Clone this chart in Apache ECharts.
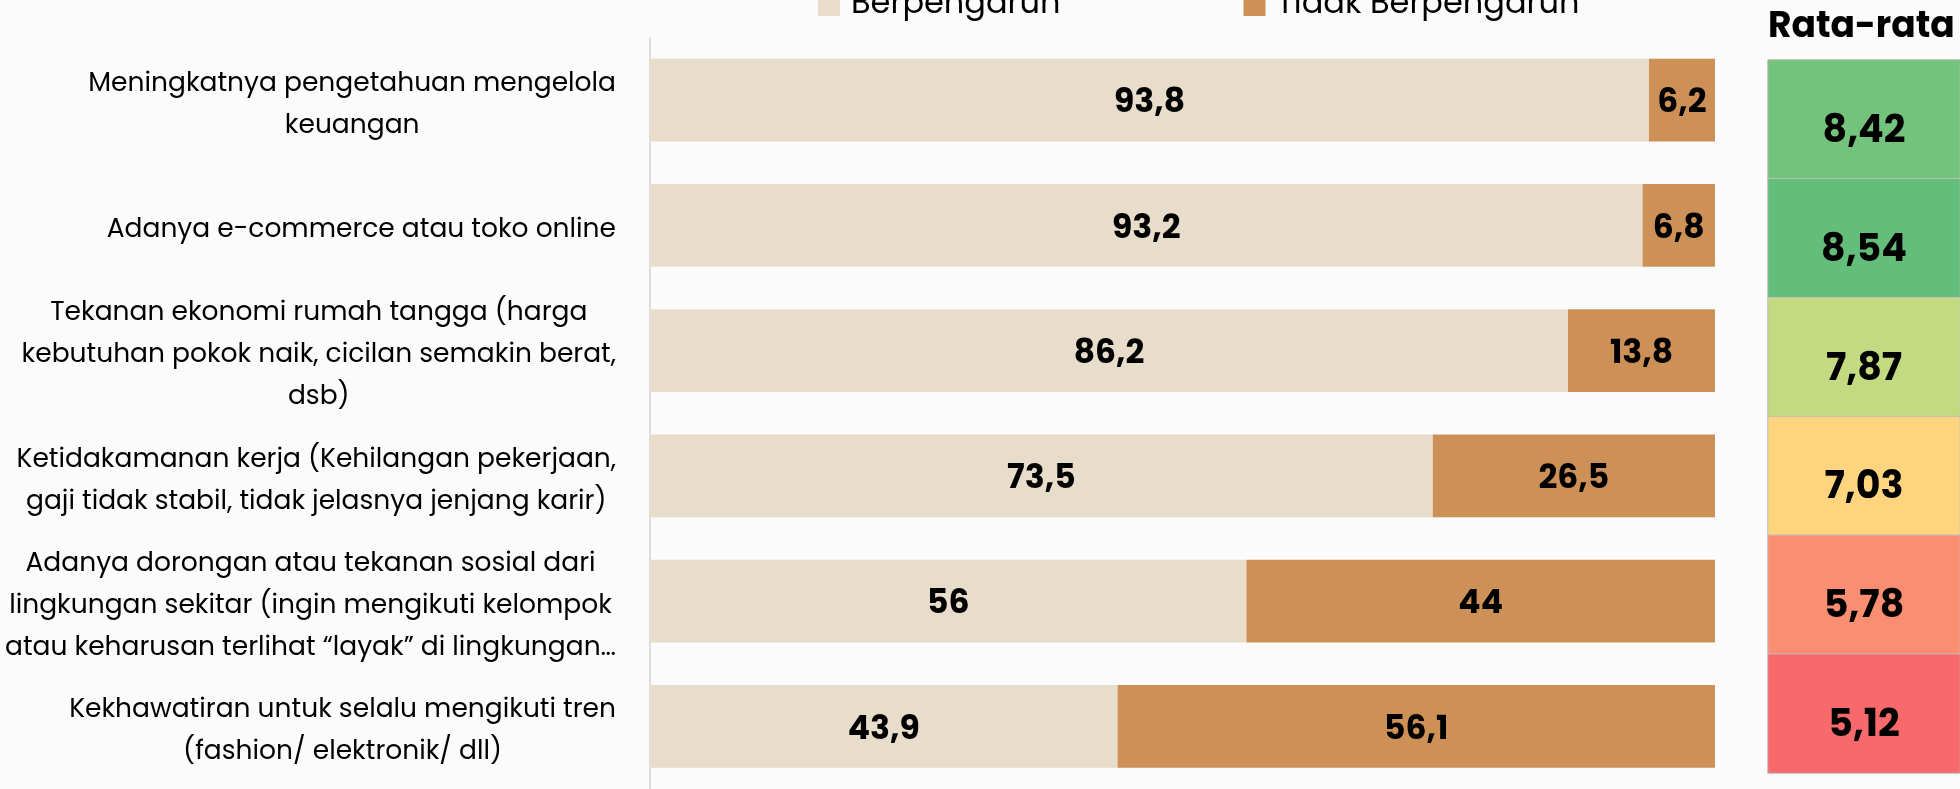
<!DOCTYPE html>
<html>
<head>
<meta charset="utf-8">
<script src="https://cdn.jsdelivr.net/npm/echarts@6/dist/echarts.min.js"></script>
<style>
  html, body { margin: 0; padding: 0; background: #fbfbfb; }
  #chart { width: 1960px; height: 789px; }
</style>
</head>
<body>
<div id="chart"></div>
<script>
// Factors (with manual line breaks) shown top to bottom
const categories = [
  'Meningkatnya pengetahuan mengelola\nkeuangan',
  'Adanya e-commerce atau toko online',
  'Tekanan ekonomi rumah tangga (harga\nkebutuhan pokok naik, cicilan semakin berat,\ndsb)',
  'Ketidakamanan kerja (Kehilangan pekerjaan,\ngaji tidak stabil, tidak jelasnya jenjang karir)',
  'Adanya dorongan atau tekanan sosial dari\nlingkungan sekitar (ingin mengikuti kelompok\natau keharusan terlihat \u201clayak\u201d di lingkungan\u2026',
  'Kekhawatiran untuk selalu mengikuti tren\n(fashion/ elektronik/ dll)'
];
const seriesNames = ['Berpengaruh', 'Tidak Berpengaruh'];
const berpengaruh = [93.8, 93.2, 86.2, 73.5, 56, 43.9];
const tidakBerpengaruh = [6.2, 6.8, 13.8, 26.5, 44, 56.1];
const rataRataTitle = 'Rata-rata';
const rataRata = [8.42, 8.54, 7.87, 7.03, 5.78, 5.12];

const FONT = 'Poppins, Inter, "Open Sans", sans-serif';
const fmtComma = v => String(v).replace('.', ',');

// Three-colour scale (red - yellow - green) with the midpoint at the median
function scaleColor(v, values) {
  const sorted = values.slice().sort((a, b) => a - b);
  const min = sorted[0], max = sorted[sorted.length - 1];
  const n = sorted.length;
  const mid = n % 2 ? sorted[(n - 1) / 2] : (sorted[n / 2 - 1] + sorted[n / 2]) / 2;
  const red = [248, 105, 107], yellow = [255, 235, 132], green = [99, 190, 123];
  let a, b, t;
  if (v <= mid) { a = red; b = yellow; t = (v - min) / (mid - min); }
  else { a = yellow; b = green; t = (v - mid) / (max - mid); }
  const c = a.map((x, i) => Math.round(x + (b[i] - x) * t));
  return 'rgb(' + c.join(',') + ')';
}

const chart = echarts.init(document.getElementById('chart'), null, { renderer: 'canvas' });

const barLabel = {
  show: true, position: 'inside', color: '#000', fontFamily: FONT,
  fontSize: 33, fontWeight: 'bold', offset: [0, 4],
  formatter: p => fmtComma(p.value)
};

const option = {
  backgroundColor: '#fbfbfb',
  animation: false,
  textStyle: { fontFamily: FONT },
  title: {
    text: rataRataTitle,
    left: 1768,
    top: 10,
    padding: 0,
    textStyle: { fontFamily: FONT, fontSize: 36, fontWeight: 'bold', color: '#000' }
  },
  legend: {
    data: seriesNames,
    left: 818,
    top: -11,
    padding: 0,
    icon: 'rect',
    itemWidth: 22,
    itemHeight: 22,
    itemGap: 183,
    textStyle: { fontFamily: FONT, fontSize: 32, lineHeight: 22, color: '#000', padding: [0, 0, 0, 6] }
  },
  grid: [
    { left: 650, right: 245, top: 37.5, bottom: -4.5, containLabel: false },
    { left: 1768, right: -12, top: 60, bottom: 16, containLabel: false }
  ],
  xAxis: [
    { type: 'value', gridIndex: 0, min: 0, max: 100, show: false },
    { type: 'category', gridIndex: 1, data: [rataRataTitle], show: false }
  ],
  yAxis: [
    {
      type: 'category', gridIndex: 0, data: categories, inverse: true,
      axisLine: { show: true, lineStyle: { color: '#dddddd', width: 2 } },
      axisTick: { show: false },
      splitLine: { show: false },
      axisLabel: {
        margin: 34,
        align: 'right',
        color: '#000',
        fontFamily: FONT,
        fontSize: 26.5,
        lineHeight: 42,
        padding: [10, 0, 0, 0],
        formatter: v => v.split('\n').map(l => '{c|' + l + '}').join('\n'),
        rich: { c: { align: 'center', fontFamily: FONT, fontSize: 26.5, lineHeight: 42, color: '#000' } }
      }
    },
    { type: 'category', gridIndex: 1, data: categories.map((_, i) => i), inverse: true, show: false }
  ],
  series: [
    {
      name: seriesNames[0], type: 'bar', stack: 'total', xAxisIndex: 0, yAxisIndex: 0,
      barWidth: '66%', data: berpengaruh,
      itemStyle: { color: '#e8dccb' },
      label: barLabel
    },
    {
      name: seriesNames[1], type: 'bar', stack: 'total', xAxisIndex: 0, yAxisIndex: 0,
      barWidth: '66%', data: tidakBerpengaruh,
      itemStyle: { color: '#cd9157' },
      label: barLabel
    },
    {
      name: rataRataTitle, type: 'heatmap', xAxisIndex: 1, yAxisIndex: 1,
      data: rataRata.map((v, i) => ({
        value: [0, i, v],
        itemStyle: { color: scaleColor(v, rataRata) }
      })),
      itemStyle: { borderColor: '#bdbdbd', borderWidth: 1 },
      label: {
        show: true, color: '#000', fontFamily: FONT, fontSize: 38, fontWeight: 'bold',
        offset: [0, 13],
        formatter: p => fmtComma(p.value[2].toFixed(2))
      },
      emphasis: { disabled: true }
    }
  ]
};

chart.setOption(option);
</script>
</body>
</html>
